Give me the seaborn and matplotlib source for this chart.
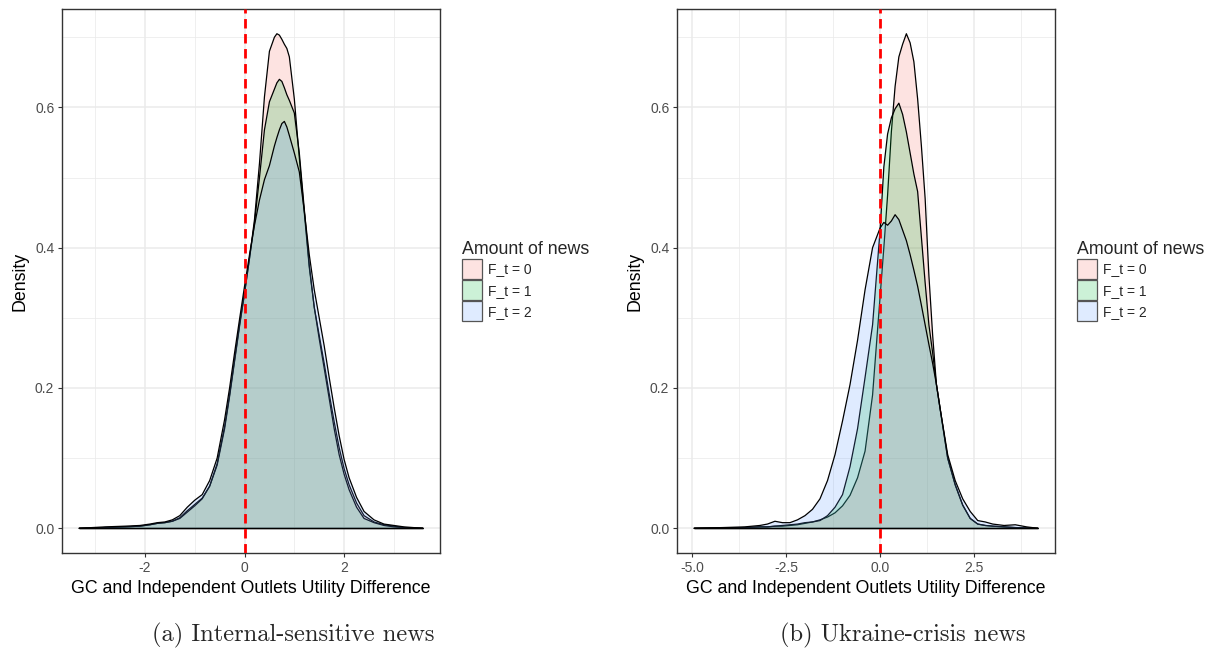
import numpy as np
import pandas as pd
import matplotlib
matplotlib.use("Agg")
import matplotlib.pyplot as plt
import seaborn as sns
from matplotlib.patches import Patch
from matplotlib.colors import to_rgba

# ---------------- data ----------------
series_labels = ["F_t = 0", "F_t = 1", "F_t = 2"]
legend_title = "Amount of news"
x_label = "GC and Independent Outlets Utility Difference"
y_label = "Density"
captions = ["(a) Internal-sensitive news", "(b) Ukraine-crisis news"]

# Panel (a): Internal-sensitive news
x_internal = [-3.32, -2.8, -2.4, -2.1, -1.9, -1.75, -1.6, -1.45, -1.3, -1.15,
              -1.0, -0.85, -0.7, -0.55, -0.4, -0.3, -0.2, -0.1, 0.0, 0.1,
              0.2, 0.3, 0.4, 0.5, 0.6, 0.65, 0.7, 0.75, 0.8, 0.85,
              0.9, 1.0, 1.1, 1.2, 1.3, 1.4, 1.5, 1.6, 1.7, 1.8,
              1.9, 2.0, 2.1, 2.25, 2.4, 2.6, 2.8, 3.0, 3.2, 3.58]
dens_internal_f0 = [0.0, 0.001, 0.002, 0.003, 0.005, 0.007, 0.008, 0.010, 0.015, 0.025,
                    0.034, 0.043, 0.060, 0.092, 0.145, 0.190, 0.240, 0.290, 0.335, 0.385,
                    0.440, 0.520, 0.615, 0.680, 0.700, 0.705, 0.703, 0.697, 0.690, 0.684,
                    0.672, 0.612, 0.528, 0.450, 0.372, 0.315, 0.275, 0.235, 0.192, 0.152,
                    0.115, 0.085, 0.062, 0.036, 0.018, 0.009, 0.005, 0.003, 0.001, 0.0]
dens_internal_f1 = [0.0, 0.001, 0.002, 0.003, 0.005, 0.007, 0.008, 0.010, 0.014, 0.023,
                    0.032, 0.042, 0.060, 0.090, 0.142, 0.188, 0.238, 0.288, 0.335, 0.385,
                    0.435, 0.500, 0.568, 0.608, 0.626, 0.635, 0.640, 0.637, 0.628, 0.618,
                    0.610, 0.592, 0.535, 0.455, 0.375, 0.315, 0.270, 0.228, 0.185, 0.142,
                    0.105, 0.077, 0.055, 0.030, 0.014, 0.008, 0.004, 0.002, 0.001, 0.0]
dens_internal_f2 = [0.0, 0.002, 0.003, 0.004, 0.006, 0.008, 0.009, 0.012, 0.018, 0.030,
                    0.040, 0.048, 0.068, 0.100, 0.155, 0.200, 0.250, 0.298, 0.345, 0.390,
                    0.432, 0.468, 0.497, 0.517, 0.545, 0.557, 0.568, 0.577, 0.580, 0.572,
                    0.560, 0.535, 0.508, 0.452, 0.390, 0.340, 0.300, 0.260, 0.215, 0.172,
                    0.132, 0.098, 0.072, 0.044, 0.024, 0.012, 0.006, 0.004, 0.002, 0.0]

# Panel (b): Ukraine-crisis news
x_ukraine = [-4.95, -4.2, -3.6, -3.2, -3.0, -2.8, -2.6, -2.4, -2.2, -2.0,
             -1.8, -1.6, -1.4, -1.2, -1.0, -0.8, -0.6, -0.4, -0.2, 0.0,
             0.1, 0.2, 0.3, 0.4, 0.5, 0.6, 0.7, 0.8, 0.9, 1.0,
             1.1, 1.2, 1.3, 1.4, 1.5, 1.6, 1.8, 2.0, 2.2, 2.4,
             2.6, 2.8, 3.0, 3.3, 3.6, 3.9, 4.2]
dens_ukraine_f0 = [0.0, 0.0005, 0.001, 0.002, 0.002, 0.003, 0.003, 0.004, 0.005, 0.007,
                   0.009, 0.012, 0.016, 0.022, 0.032, 0.047, 0.072, 0.110, 0.190, 0.330,
                   0.400, 0.475, 0.565, 0.630, 0.672, 0.690, 0.705, 0.692, 0.665, 0.612,
                   0.545, 0.470, 0.360, 0.275, 0.205, 0.170, 0.100, 0.062, 0.033, 0.014,
                   0.006, 0.004, 0.003, 0.002, 0.001, 0.0005, 0.0]
dens_ukraine_f1 = [0.0, 0.0005, 0.001, 0.002, 0.002, 0.003, 0.004, 0.005, 0.006, 0.008,
                   0.009, 0.011, 0.018, 0.030, 0.048, 0.088, 0.142, 0.215, 0.290, 0.425,
                   0.515, 0.562, 0.585, 0.598, 0.606, 0.590, 0.565, 0.535, 0.505, 0.480,
                   0.415, 0.350, 0.290, 0.250, 0.205, 0.170, 0.100, 0.062, 0.033, 0.014,
                   0.006, 0.004, 0.003, 0.002, 0.001, 0.0005, 0.0]
dens_ukraine_f2 = [0.0, 0.001, 0.002, 0.004, 0.006, 0.010, 0.008, 0.008, 0.012, 0.018,
                   0.027, 0.042, 0.068, 0.105, 0.153, 0.205, 0.268, 0.340, 0.400, 0.428,
                   0.436, 0.432, 0.438, 0.447, 0.440, 0.425, 0.410, 0.390, 0.368, 0.345,
                   0.318, 0.290, 0.262, 0.235, 0.205, 0.170, 0.105, 0.068, 0.042, 0.024,
                   0.011, 0.009, 0.006, 0.004, 0.005, 0.002, 0.0]

y_ticks = [0.0, 0.2, 0.4, 0.6]
y_ticklabels = ["0.0", "0.2", "0.4", "0.6"]
x_ticks_internal = [-2, 0, 2]
x_ticklabels_internal = ["-2", "0", "2"]
x_ticks_ukraine = [-5.0, -2.5, 0.0, 2.5]
x_ticklabels_ukraine = ["-5.0", "-2.5", "0.0", "2.5"]

# ---------------- style ----------------
sns.set_theme(style="white")
plt.rcParams["font.family"] = ["Liberation Sans", "DejaVu Sans"]
plt.rcParams["axes.unicode_minus"] = False

fill_colors = ["#F8766D", "#00BA38", "#619CFF"]
fill_alpha = 0.2
grid_col = "#EBEBEB"
frame_col = "#333333"
tick_fs = 10
title_fs = 12.8

fig = plt.figure(figsize=(12.05, 6.5), dpi=100)
W, H = 1205, 650


def px_axes(x0, y0, x1, y1):
    return fig.add_axes([x0 / W, 1 - y1 / H, (x1 - x0) / W, (y1 - y0) / H])


panels = [
    dict(ax=px_axes(62, 9, 440, 553), x=x_internal,
         ys=[dens_internal_f0, dens_internal_f1, dens_internal_f2],
         xt=x_ticks_internal, xtl=x_ticklabels_internal),
    dict(ax=px_axes(677, 9, 1055, 553), x=x_ukraine,
         ys=[dens_ukraine_f0, dens_ukraine_f1, dens_ukraine_f2],
         xt=x_ticks_ukraine, xtl=x_ticklabels_ukraine),
]

for p in panels:
    ax = p["ax"]
    x = np.array(p["x"], dtype=float)
    frames = []
    for lab, y in zip(series_labels, p["ys"]):
        frames.append(pd.DataFrame({"x": x, "density": y, "news": lab}))
    df = pd.concat(frames, ignore_index=True)

    for i, lab in enumerate(series_labels):
        sub = df[df["news"] == lab]
        z = 3 + 2 * i
        ax.fill_between(sub["x"], 0, sub["density"],
                        facecolor=to_rgba(fill_colors[i], fill_alpha),
                        edgecolor="none", zorder=z)
        sns.lineplot(data=sub, x="x", y="density", ax=ax, color="black",
                     lw=0.9, estimator=None, sort=False, legend=False,
                     zorder=z + 1)
        ax.plot([sub["x"].min(), sub["x"].max()], [0, 0], color="black",
                lw=0.9, zorder=z + 1, solid_capstyle="butt")

    ax.axvline(0, color="#FF0000", lw=2.0, ls=(0, (3.4, 2.0)), zorder=20)

    xmin, xmax = x.min(), x.max()
    pad = 0.05 * (xmax - xmin)
    lo, hi = xmin - pad, xmax + pad
    ymax = max(max(v) for v in p["ys"])
    ylo, yhi = -0.05 * ymax, ymax * 1.05

    ax.set_xticks(p["xt"])
    ax.set_xticklabels(p["xtl"])
    ax.set_yticks(y_ticks)
    ax.set_yticklabels(y_ticklabels)
    xt = p["xt"]
    step = xt[1] - xt[0]
    cand = [xt[0] - step * (k + 0.5) for k in range(3)] + \
           [t + step / 2 for t in xt] + [xt[-1] + step * (k + 1.5) for k in range(3)]
    minors = sorted(c for c in cand if lo <= c <= hi)
    ax.set_xticks(minors, minor=True)
    ax.set_yticks([m for m in [0.1, 0.3, 0.5, 0.7] if m <= yhi], minor=True)
    ax.set_xlim(lo, hi)
    ax.set_ylim(ylo, yhi)

    ax.grid(True, which="major", color=grid_col, lw=1.1, zorder=0)
    ax.grid(True, which="minor", color=grid_col, lw=0.55, zorder=0)
    ax.set_axisbelow(True)
    ax.tick_params(which="major", direction="out", length=3, width=0.8,
                   color=frame_col, labelcolor="#4D4D4D", labelsize=tick_fs,
                   pad=2.5, bottom=True, left=True)
    ax.tick_params(which="minor", length=0)
    for s in ax.spines.values():
        s.set_color(frame_col)
        s.set_linewidth(1.0)
        s.set_visible(True)

    ax.set_xlabel(x_label, fontsize=title_fs, color="black", labelpad=4)
    ax.set_ylabel(y_label, fontsize=title_fs, color="black", labelpad=5)

    handles = [Patch(facecolor=to_rgba(c, fill_alpha), edgecolor="#555555",
                     lw=0.9) for c in fill_colors]
    leg = ax.legend(handles, series_labels, title=legend_title,
                    loc="upper left", bbox_to_anchor=(1.058, 0.574),
                    frameon=False, fontsize=tick_fs, title_fontsize=title_fs,
                    handlelength=1.45, handleheight=1.85, labelspacing=0.08,
                    handletextpad=0.45, borderpad=0, borderaxespad=0,
                    alignment="left")

fig.text(293 / W, 1 - 635 / H, captions[0], ha="center", va="center",
         fontsize=17.6, family="cmr10")
fig.text(903 / W, 1 - 635 / H, captions[1], ha="center", va="center",
         fontsize=17.6, family="cmr10")

fig.savefig("out.png", dpi=100)
